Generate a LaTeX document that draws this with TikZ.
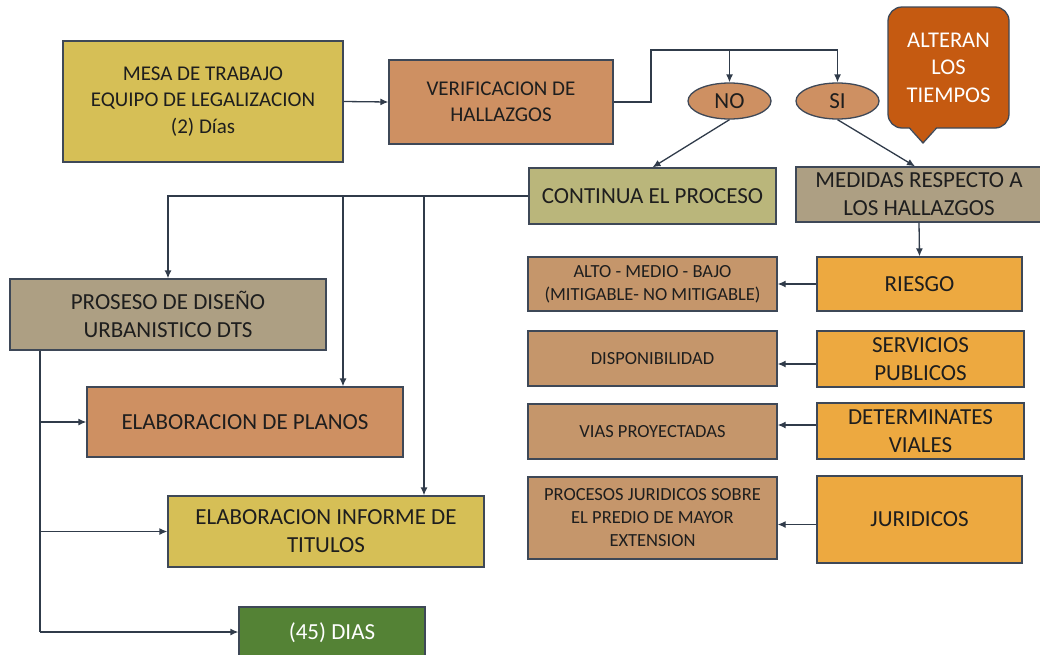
\documentclass[tikz,border=0pt]{standalone}
\usepackage{fontspec}
\setmainfont{Carlito}
\usetikzlibrary{arrows.meta,shapes.geometric}
\definecolor{cEdge}{HTML}{3E4857}
\definecolor{cLine}{HTML}{303B4A}
\definecolor{cText}{HTML}{1E1E1E}
\definecolor{cYel}{HTML}{D6BF56}
\definecolor{cOra}{HTML}{CE9062}
\definecolor{cOli}{HTML}{BAB67B}
\definecolor{cGry}{HTML}{AD9F83}
\definecolor{cTan}{HTML}{C5966B}
\definecolor{cGld}{HTML}{EDA940}
\definecolor{cAlt}{HTML}{C55A11}
\definecolor{cGrn}{HTML}{548235}

\begin{document}
\begin{tikzpicture}[x=1pt,y=-1pt,
	box/.style={draw=cEdge,line width=1.3pt,align=center,text=cText,inner sep=2pt,font=\fontsize{23}{28}\selectfont},
	mid/.style={font=\fontsize{21}{26.5}\selectfont},
	small/.style={font=\fontsize{18.5}{23}\selectfont},
	arr/.style={draw=cLine,line width=1.3pt,-{Latex[length=8pt,width=7pt]}},
	ln/.style={draw=cLine,line width=1.3pt}]
	\useasboundingbox (0,0) rectangle (1040,654);
	\clip (0,0) rectangle (1040,654);
	% top row
	\node[box,mid,fill=cYel,minimum width=280,minimum height=121] (mesa) at (203,101.5) {MESA DE TRABAJO\\EQUIPO DE LEGALIZACION\\(2) Días};
	\node[box,mid,fill=cOra,minimum width=224,minimum height=84] (verif) at (501,102) {VERIFICACION DE\\HALLAZGOS};
	\node[box,ellipse,fill=cOra,inner sep=0pt,minimum width=83,minimum height=36] (no) at (729.5,101) {NO};
	\node[box,ellipse,fill=cOra,inner sep=0pt,minimum width=83,minimum height=36] (si) at (837.5,101) {SI};
	\node[box,rounded corners=14pt,fill=cAlt,text=white,minimum width=121,minimum height=121,font=\fontsize{22.5}{27.5}\selectfont] (alteran) at (948.5,67.5) {ALTERAN\\LOS\\TIEMPOS};
	\fill[cAlt] (909,126.3) -- (923,143) -- (937,126.3) -- cycle;
	\draw[cEdge,line width=1.3pt] (909.5,128) -- (923,143) -- (936.5,128);
	\node[box,fill=cOli,minimum width=247,minimum height=56] (continua) at (652.5,196) {CONTINUA EL PROCESO};
	\node[box,fill=cGry,minimum width=246,minimum height=55] (medidas) at (919,194.5) {MEDIDAS RESPECTO A\\LOS HALLAZGOS};
	% left column
	\node[box,fill=cGry,minimum width=316,minimum height=71] (proseso) at (168,314.5) {PROSESO DE DISEÑO\\URBANISTICO DTS};
	\node[box,fill=cOra,minimum width=316,minimum height=70] (planos) at (245,422) {ELABORACION DE PLANOS};
	\node[box,fill=cYel,minimum width=316,minimum height=71] (informe) at (326,531.5) {ELABORACION INFORME DE\\TITULOS};
	\node[box,fill=cGrn,text=white,minimum width=186,minimum height=52] (dias) at (332,633) {(45) DIAS};
	% right columns
	\node[box,small,fill=cTan,minimum width=249,minimum height=54] (alto) at (652.5,284) {ALTO - MEDIO - BAJO\\(MITIGABLE- NO MITIGABLE)};
	\node[box,small,fill=cTan,minimum width=249,minimum height=55] (dispon) at (652.5,358.5) {DISPONIBILIDAD};
	\node[box,small,fill=cTan,minimum width=249,minimum height=55] (vias) at (652.5,431.5) {VIAS PROYECTADAS};
	\node[box,small,fill=cTan,minimum width=249,minimum height=82] (procesos) at (652.5,518) {PROCESOS JURIDICOS SOBRE\\EL PREDIO DE MAYOR\\EXTENSION};
	\node[box,fill=cGld,minimum width=205,minimum height=54] (riesgo) at (919.5,284) {RIESGO};
	\node[box,fill=cGld,minimum width=207,minimum height=56] (servicios) at (920.5,359) {SERVICIOS\\PUBLICOS};
	\node[box,fill=cGld,minimum width=207,minimum height=56] (determ) at (920.5,431) {DETERMINATES\\VIALES};
	\node[box,fill=cGld,minimum width=205,minimum height=87] (juridicos) at (919.5,519.5) {JURIDICOS};
	% connectors
	\coordinate (split) at (651,50);
	\coordinate (b1) at (343,196);
	\coordinate (b2) at (424,196);
	\coordinate (trunk) at (40,632);
	\draw[arr] (mesa.east) -- (verif.east -| verif.west);
	\draw[ln] (verif.east) -| (split) -- (split -| si.north);
	\draw[arr] (split -| no.north) -- (no.north);
	\draw[arr] (split -| si.north) -- (si.north);
	\draw[arr] (no.south) -- (continua.north);
	\draw[arr] (si.south) -- ([xshift=-4pt]medidas.north);
	\draw[arr] (continua.west) -| (proseso.north);
	\draw[arr] (b1) -- (b1 |- planos.north);
	\draw[arr] (b2) -- (b2 |- informe.north);
	\draw[arr] (medidas.south) -- (riesgo.north);
	\draw[arr] (riesgo.west) -- (alto.east);
	\draw[arr] ([yshift=-5pt]servicios.west) -- ([yshift=-5pt]servicios.west -| dispon.east);
	\draw[arr] ([yshift=6pt]determ.west) -- ([yshift=6pt]determ.west -| vias.east);
	\draw[arr] ([yshift=-5pt]juridicos.west) -- ([yshift=-5pt]juridicos.west -| procesos.east);
	\draw[ln] (proseso.south -| trunk) -- (trunk);
	\draw[arr] (trunk) -- (trunk -| dias.west);
	\draw[arr] (planos.west -| trunk) -- (planos.west);
	\draw[arr] (informe.west -| trunk) -- (informe.west);
\end{tikzpicture}
\end{document}
